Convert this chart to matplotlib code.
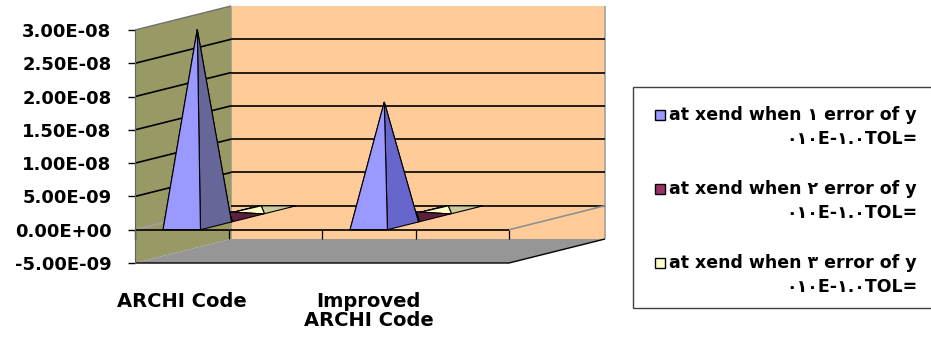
import matplotlib
matplotlib.use("Agg")
import matplotlib.pyplot as plt
from matplotlib.patches import Polygon, Rectangle

plt.rcParams['font.family'] = ['DejaVu Sans', 'Noto Sans']

# chart data
categories = ["ARCHI Code", "Improved\nARCHI Code"]
series_1 = [2.95e-08, 1.86e-08]
series_2 = [9.0e-10, 9.0e-10]
series_3 = [6.0e-10, 6.0e-10]
series_labels = [
    ["at xend when \u0661 error of y", "\u0660\u0661\u0660E-\u0661.\u0660TOL="],
    ["at xend when \u0662 error of y", "\u0660\u0661\u0660E-\u0661.\u0660TOL="],
    ["at xend when \u0663 error of y", "\u0660\u0661\u0660E-\u0661.\u0660TOL="],
]
y_ticks = [-5e-09, 0.0, 5e-09, 1e-08, 1.5e-08, 2e-08, 2.5e-08, 3e-08]

# colours: (front face, right face) per series
face_colors = [
    [("#9999FF", "#666699"), ("#9999FF", "#6666CC")],
    [("#993366", "#5C1F3D"), ("#993366", "#5C1F3D")],
    [("#FFFFCC", "#CCCC99"), ("#FFFFCC", "#CCCC99")],
]
legend_colors = ["#9999FF", "#993366", "#FFFFCC"]

W, H = 931, 338
fig = plt.figure(figsize=(W / 100, H / 100), dpi=100)
ax_l, ax_r, ax_t, ax_b = 135, 509, 30, 263
ax = fig.add_axes([ax_l / W, (H - ax_b) / H, (ax_r - ax_l) / W, (ax_b - ax_t) / H])
ax.patch.set_visible(False)

x0, x1 = -0.25, 1.75
y0, y1 = y_ticks[0], y_ticks[-1]
ax.set_xlim(x0, x1)
ax.set_ylim(y0, y1)

# depth direction of the oblique box (96 px right, 24 px up)
xpp = (x1 - x0) / (ax_r - ax_l)
ypp = (y1 - y0) / (ax_b - ax_t)
DX, DY = 96 * xpp, 24 * ypp


def P(x, y, d):
    return (x + d * DX, y + d * DY)


def poly(pts, fc, ec="none", lw=0.8, z=1):
    ax.add_patch(Polygon(pts, closed=True, facecolor=fc, edgecolor=ec,
                         linewidth=lw, zorder=z, clip_on=False))


def line(pts, color="black", lw=1.0, z=2):
    xs = [p[0] for p in pts]
    ys = [p[1] for p in pts]
    ax.plot(xs, ys, color=color, lw=lw, zorder=z, clip_on=False,
            solid_capstyle="butt")


# walls and floor
poly([P(x0, y0, 1), P(x1, y0, 1), P(x1, y1, 1), P(x0, y1, 1)], "#FFCC99", z=0.5)
line([P(x1, y1, 1), P(x1, y0, 1)], color="#A0A0A0", lw=1.2, z=0.6)
poly([P(x0, y0, 0), P(x0, y0, 1), P(x0, y1, 1), P(x0, y1, 0)], "#999966", z=0.7)
line([P(x0, y1, 0), P(x0, y1, 1)], color="#707070", lw=1.0, z=0.8)
line([P(x0, y1, 1), P(x0, y0, 1)], color="#A8A890", lw=0.8, z=0.8)
poly([P(x0, y0, 0), P(x1, y0, 0), P(x1, y0, 1), P(x0, y0, 1)], "#969696", z=0.7)
line([P(x0, y0, 0), P(x1, y0, 0), P(x1, y0, 1)], color="black", lw=1.0, z=0.9)

# gridlines on left and back walls
for lvl in y_ticks[1:-1]:
    wall_col = "#A0A0A0" if lvl == 0 else "black"
    line([P(x0, lvl, 0), P(x0, lvl, 1)], color=wall_col, lw=1.2, z=1)
    line([P(x0, lvl, 1), P(x1, lvl, 1)], color="black", lw=1.2, z=1)

# zero plane edges and category ticks
line([P(x1, 0, 0), P(x1, 0, 1)], color="#909090", lw=1.2, z=1)
for t in [x0, -0.25 + 0.5, 0.75, 1.25, x1]:
    line([(t, 0), (t, -9 * ypp)], color="black", lw=0.9, z=1.1)

# pyramids, back row first
bw = 0.2
rows = [series_1, series_2, series_3]
for r in [2, 1, 0]:
    d0, d1 = r / 3, (r + 1) / 3 - 0.01
    dm = (d0 + d1) / 2
    for i, v in enumerate(rows[r]):
        front, side = face_colors[r][i]
        A = P(i, v, dm)
        FL, FR = P(i - bw / 2, 0, d0), P(i + bw / 2, 0, d0)
        BL, BR = P(i - bw / 2, 0, d1), P(i + bw / 2, 0, d1)
        z = 3 + (2 - r)
        poly([BL, BR, A], side, ec="black", z=z)
        poly([FL, BL, A], front, ec="black", z=z)
        poly([FR, BR, A], side, ec="black", z=z)
        poly([FL, FR, A], front, ec="black", z=z)

# category axis line at zero
line([P(x0, 0, 0), P(x1, 0, 0)], color="black", lw=1.2, z=6)

# axes styling
for s in ["top", "right", "bottom"]:
    ax.spines[s].set_visible(False)
ax.spines["left"].set_color("#606060")
ax.spines["left"].set_zorder(6)
ax.set_yticks(y_ticks)
ax.set_yticklabels([f"{v:.2E}" for v in y_ticks], fontsize=13, fontweight="bold")
ax.tick_params(axis="y", length=5, width=1, color="black", pad=12)
ax.set_xticks([0, 1])
ax.set_xticklabels(categories, fontsize=14, fontweight="bold", linespacing=1.0)
ax.tick_params(axis="x", length=0, pad=21)

# legend box
def fx(px):
    return px / W


def fy(py):
    return (H - py) / H


fig.add_artist(Rectangle((fx(633), fy(308)), fx(960) - fx(633), fy(87) - fy(308),
                         transform=fig.transFigure, facecolor="white",
                         edgecolor="#404040", linewidth=1.0))
entry_y = [115, 189, 263]
for k, (lbl, col) in enumerate(zip(series_labels, legend_colors)):
    yc = entry_y[k]
    fig.add_artist(Rectangle((fx(655), fy(yc + 5)), fx(665) - fx(655), fy(yc - 5) - fy(yc + 5),
                             transform=fig.transFigure, facecolor=col,
                             edgecolor="black", linewidth=1.0))
    fig.text(fx(917), fy(yc), lbl[0], ha="right", va="center",
             fontsize=12.5, fontweight="bold")
    fig.text(fx(917), fy(yc + 24), lbl[1], ha="right", va="center",
             fontsize=12.5, fontweight="bold")

fig.savefig("out.png", dpi=100)
